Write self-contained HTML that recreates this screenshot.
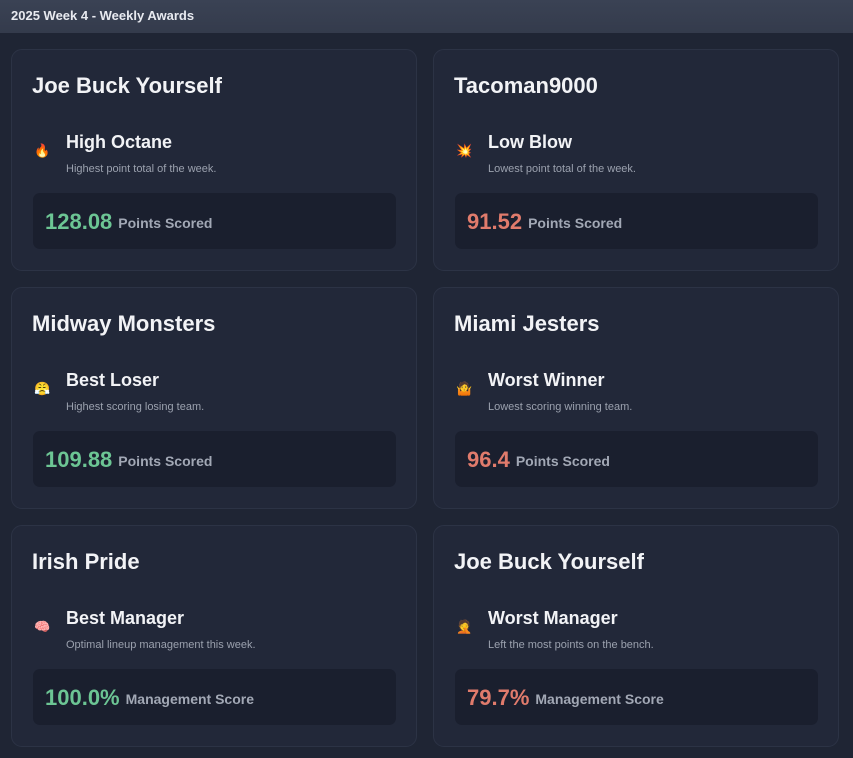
<!DOCTYPE html>
<html><head><meta charset="utf-8"><style>
*{margin:0;padding:0;box-sizing:border-box}
body{width:853px;height:758px;background:#1f2534;font-family:"Liberation Sans","DejaVu Sans",sans-serif;position:relative;overflow:hidden}
.hdr{position:absolute;left:0;top:0;width:853px;height:33px;background:linear-gradient(#3a4254,#343b4c);color:#e8eaf0;font-size:13px;font-weight:bold;padding:8px 0 0 11px}
.card{position:absolute;width:406px;height:222px;background:#222839;border:1px solid #2c3345;border-radius:11px}
.t{position:absolute;left:20px;top:23px;font-size:22px;font-weight:bold;color:#f2f3f6}
.ic{position:absolute;left:22px;top:94px;font-size:13px;font-family:"DejaVu Sans",sans-serif}
.an{position:absolute;left:54px;top:82px;font-size:18px;font-weight:bold;color:#f2f3f6}
.d{position:absolute;left:54px;top:113px;font-size:11px;color:#9ba1ae}
.box{position:absolute;left:21px;top:143px;width:363px;height:56px;background:#1a1f2e;border-radius:7px}
.v{position:absolute;left:12px;top:16px;font-size:22px;font-weight:bold}
.g{color:#6cc594}.r{color:#e07b6c}
.l{font-size:14px;color:#a2a8b5;font-weight:bold;margin-left:6px;position:relative;top:-1px}
</style></head><body>
<div class="hdr">2025 Week 4 - Weekly Awards</div>

<div class="card" style="left:11px;top:49px"><div class="t">Joe Buck Yourself</div><div class="ic">🔥</div><div class="an">High Octane</div><div class="d">Highest point total of the week.</div><div class="box"><div class="v g">128.08<span class="l">Points Scored</span></div></div></div>

<div class="card" style="left:433px;top:49px"><div class="t">Tacoman9000</div><div class="ic">💥</div><div class="an">Low Blow</div><div class="d">Lowest point total of the week.</div><div class="box"><div class="v r">91.52<span class="l">Points Scored</span></div></div></div>

<div class="card" style="left:11px;top:287px"><div class="t">Midway Monsters</div><div class="ic">😤</div><div class="an">Best Loser</div><div class="d">Highest scoring losing team.</div><div class="box"><div class="v g">109.88<span class="l">Points Scored</span></div></div></div>

<div class="card" style="left:433px;top:287px"><div class="t">Miami Jesters</div><div class="ic">🤷</div><div class="an">Worst Winner</div><div class="d">Lowest scoring winning team.</div><div class="box"><div class="v r">96.4<span class="l">Points Scored</span></div></div></div>

<div class="card" style="left:11px;top:525px"><div class="t">Irish Pride</div><div class="ic">🧠</div><div class="an">Best Manager</div><div class="d">Optimal lineup management this week.</div><div class="box"><div class="v g">100.0%<span class="l">Management Score</span></div></div></div>

<div class="card" style="left:433px;top:525px"><div class="t">Joe Buck Yourself</div><div class="ic">🤦</div><div class="an">Worst Manager</div><div class="d">Left the most points on the bench.</div><div class="box"><div class="v r">79.7%<span class="l">Management Score</span></div></div></div>
</body></html>
